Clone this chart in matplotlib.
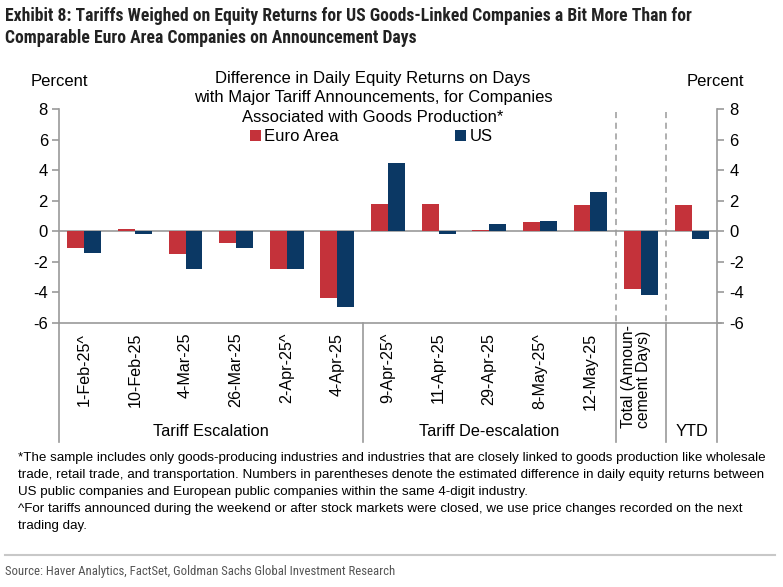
import numpy as np
import matplotlib
matplotlib.use("Agg")
import matplotlib.pyplot as plt
from matplotlib.lines import Line2D

plt.rcParams['font.family'] = ['Liberation Sans', 'DejaVu Sans']
plt.rcParams['axes.unicode_minus'] = False
NARROW = ['Roboto Condensed', 'Archivo Narrow', 'DejaVu Sans']

# data
categories = ["1-Feb-25^", "10-Feb-25", "4-Mar-25", "26-Mar-25", "2-Apr-25^", "4-Apr-25",
              "9-Apr-25^", "11-Apr-25", "29-Apr-25", "8-May-25^", "12-May-25", "", ""]
euro_area = [-1.1, 0.15, -1.5, -0.75, -2.45, -4.35, 1.8, 1.8, 0.1, 0.6, 1.75, -3.8, 1.7]
us = [-1.4, -0.15, -2.45, -1.1, -2.45, -4.95, 4.5, -0.15, 0.5, 0.65, 2.55, -4.2, -0.5]
groups = ["Tariff Escalation", "Tariff De-escalation", "YTD"]
yticks = [8, 6, 4, 2, 0, -2, -4, -6]

RED = "#C4323A"
NAVY = "#0B3864"
GREY = "#9A9A9A"
W, H = 783, 587
PX = (323 - 109) / 14  # pixels per percent point

fig = plt.figure(figsize=(W / 100, H / 100), dpi=100)
ax = fig.add_axes([59 / W, 1 - 323 / H, (717 - 59) / W, (323 - 109) / H])

x = np.arange(len(categories))
bw = 0.335
ax.bar(x - bw / 2, euro_area, bw, color=RED, label="Euro Area", zorder=3)
ax.bar(x + bw / 2, us, bw, color=NAVY, label="US", zorder=3)

ax.set_xlim(-0.5, len(categories) - 0.5)
ax.set_ylim(-6, 8)
ax.set_yticks(yticks)
ax.axhline(0, color=GREY, lw=1.2, zorder=2)

for s in ["top", "right"]:
    ax.spines[s].set_visible(False)
for s in ["left", "bottom"]:
    ax.spines[s].set_color(GREY)
    ax.spines[s].set_linewidth(1.2)

ax.tick_params(axis="y", direction="out", length=5, color=GREY, width=1.2,
               labelsize=12, pad=3)
ax.set_xticks(x)
ax.set_xticklabels(categories, rotation=90, fontsize=11.6, va="top")
ax.tick_params(axis="x", length=0, pad=7)

ax2 = ax.twinx()
ax2.set_ylim(-6, 8)
ax2.set_yticks(yticks)
for s in ["top", "left", "bottom"]:
    ax2.spines[s].set_visible(False)
ax2.spines["right"].set_color(GREY)
ax2.spines["right"].set_linewidth(1.2)
ax2.tick_params(axis="y", direction="out", length=5, color=GREY, width=1.2,
                labelsize=12, pad=4)

# dashed separators for Total and YTD
for xs in [10.5, 11.5]:
    ax.plot([xs, xs], [7.8, -6], color=GREY, lw=1.1, ls=(0, (4, 3)), zorder=1)

# solid separators below the axis
ybot = -6 - (442 - 323) / PX
for xs in [-0.5, 5.5, 10.5, 11.5, 12.5]:
    ax.add_line(Line2D([xs, xs], [-6, ybot], color=GREY, lw=1.2, clip_on=False))
ax.add_line(Line2D([12.5, 12.57], [-6, -6], color=GREY, lw=1.2, clip_on=False))

ylab = -6 - (432 - 323) / PX
ax.text(2.5, ylab, groups[0], ha="center", va="center", fontsize=11.8, clip_on=False)
ax.text(8.0, ylab, groups[1], ha="center", va="center", fontsize=11.8, clip_on=False)
ax.text(12.0, ylab, groups[2], ha="center", va="center", fontsize=11.8, clip_on=False)
ax.text(10.9, -6 - (428 - 323) / PX, "Total (Announ-\ncement Days)",
        rotation=90, ha="center", va="bottom", fontsize=11.3, linespacing=1.0,
        multialignment="left", clip_on=False)

ax.legend(loc="upper left", bbox_to_anchor=(250 / W, 1 - 129 / H),
          bbox_transform=fig.transFigure, ncol=2, frameon=False, fontsize=12,
          handlelength=0.65, handleheight=0.65, handletextpad=0.2,
          columnspacing=7.0, borderpad=0, borderaxespad=0)

# texts
fig.text(31 / W, 1 - 82 / H, "Percent", fontsize=12, va="center", ha="left")
fig.text(687 / W, 1 - 82 / H, "Percent", fontsize=12, va="center", ha="left")
fig.text(373 / W, 1 - 71 / H,
         "Difference in Daily Equity Returns on Days\n"
         "with Major Tariff Announcements, for Companies\n"
         "Associated with Goods Production*",
         fontsize=12, ha="center", va="top", linespacing=1.36)

fig.text(5 / W, 1 - 7 / H,
         "Exhibit 8: Tariffs Weighed on Equity Returns for US Goods-Linked Companies a Bit More Than for\n"
         "Comparable Euro Area Companies on Announcement Days",
         family=NARROW, fontweight="bold",
         fontsize=12.7, color="#222222", ha="left", va="top", linespacing=1.3)

notes = [
    "*The sample includes only goods-producing industries and industries that are closely linked to goods production like wholesale",
    "trade, retail trade, and transportation. Numbers in parentheses denote the estimated difference in daily equity returns between",
    "US public companies and European public companies within the same 4-digit industry.",
    "^For tariffs announced during the weekend or after stock markets were closed, we use price changes recorded on the next",
    "trading day.",
]
for i, line in enumerate(notes):
    fig.text(18 / W, 1 - (458 + 17 * i) / H, line, fontsize=9.6, ha="left", va="center")

fig.add_artist(Line2D([5 / W, 775 / W], [1 - 555 / H, 1 - 555 / H], color="#C8C8C8", lw=1.5))
fig.text(5 / W, 1 - 572 / H,
         "Source: Haver Analytics, FactSet, Goldman Sachs Global Investment Research",
         family=NARROW, fontsize=9.2, color="#555555",
         ha="left", va="center")

fig.savefig("out.png", dpi=100)
